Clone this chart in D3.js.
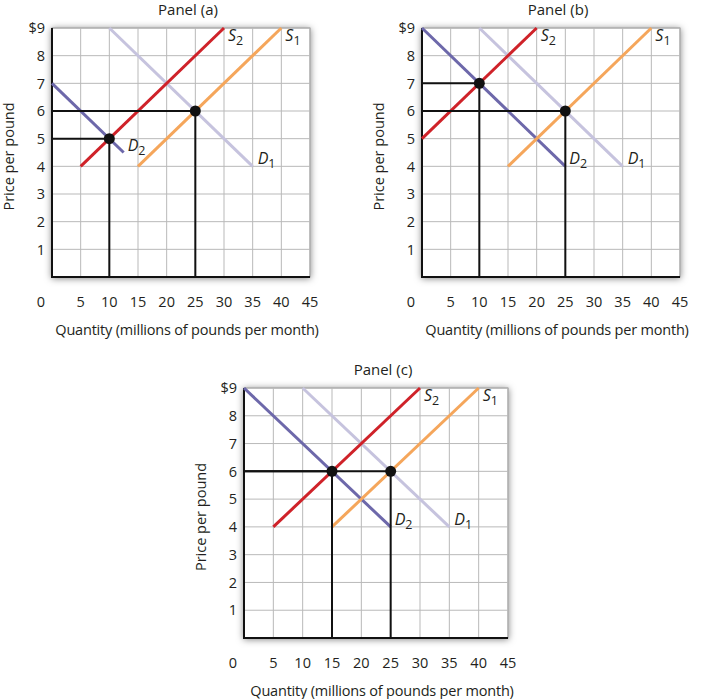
<!DOCTYPE html>
<html>
<head>
<meta charset="utf-8">
<script src="https://cdn.jsdelivr.net/npm/d3@7/dist/d3.min.js"></script>
<style>
  html, body { margin: 0; padding: 0; background: #fff; }
  svg text { font-family: "Open Sans", "Noto Sans", sans-serif; fill: #231f20; }
</style>
</head>
<body>
<svg id="chart" width="720" height="699"></svg>
<script>
// ---- data ----
const panelTitles = ["Panel (a)", "Panel (b)", "Panel (c)"];
const xTicks = [5, 10, 15, 20, 25, 30, 35, 40, 45];
const yTicks = [1, 2, 3, 4, 5, 6, 7, 8, 9];
const yTickLabels = ["1", "2", "3", "4", "5", "6", "7", "8", "$9"];

// each curve: [start point, end point] as [quantity, price], one per panel
const supply1 = [[[15, 4], [40, 9]], [[15, 4], [40, 9]], [[15, 4], [40, 9]]];
const supply2 = [[[5, 4], [30, 9]], [[0, 5], [20, 9]], [[5, 4], [30, 9]]];
const demand1 = [[[10, 9], [35, 4]], [[10, 9], [35, 4]], [[10, 9], [35, 4]]];
const demand2 = [[[0, 7], [12.5, 4.5]], [[0, 9], [25, 4]], [[0, 9], [25, 4]]];
const equilibria = [[[10, 5], [25, 6]], [[10, 7], [25, 6]], [[15, 6], [25, 6]]];

// ---- layout ----
const frames = [
  { left: 52, right: 310, top: 28, bottom: 277 },
  { left: 422, right: 680, top: 28, bottom: 277 },
  { left: 244, right: 508, top: 388, bottom: 638 }
];

const colors = { s1: "#f5a65b", s2: "#cf2229", d1: "#c6c3de", d2: "#6d68aa" };

const svg = d3.select("#chart");

// soft grey shadow around each plot box
const defs = svg.append("defs");
const shadow = defs.append("filter").attr("id", "shadow")
  .attr("x", "-10%").attr("y", "-10%").attr("width", "120%").attr("height", "120%");
shadow.append("feDropShadow")
  .attr("dx", 0).attr("dy", 1).attr("stdDeviation", 3.5)
  .attr("flood-color", "#000").attr("flood-opacity", 0.5);

function curveLabel(g, x, y, letter, sub) {
  const t = g.append("text").attr("x", x).attr("y", y).style("font-size", "16px");
  t.append("tspan").attr("font-style", "italic").text(letter);
  t.append("tspan").attr("dy", 4).style("font-size", "12.5px").text(sub);
}

panelTitles.forEach((title, i) => {
  const f = frames[i];
  const x = d3.scaleLinear().domain([0, 45]).range([f.left, f.right]);
  const y = d3.scaleLinear().domain([0, 9]).range([f.bottom, f.top]);
  const g = svg.append("g");
  const mid = (f.left + f.right) / 2;

  // plot box with shadow
  g.append("rect")
    .attr("x", f.left).attr("y", f.top)
    .attr("width", f.right - f.left).attr("height", f.bottom - f.top)
    .attr("fill", "#fff").attr("stroke", "#8a8a8a").attr("stroke-width", 1)
    .attr("filter", "url(#shadow)");

  // grid
  g.append("g").selectAll("line").data(xTicks).join("line")
    .attr("x1", d => x(d)).attr("x2", d => x(d))
    .attr("y1", f.top).attr("y2", f.bottom)
    .attr("stroke", "#b9b9b9").attr("stroke-width", 1);
  g.append("g").selectAll("line").data(yTicks).join("line")
    .attr("x1", f.left).attr("x2", f.right)
    .attr("y1", d => y(d)).attr("y2", d => y(d))
    .attr("stroke", "#b9b9b9").attr("stroke-width", 1);

  // axes (left and bottom in black)
  g.append("line").attr("x1", f.left).attr("x2", f.left)
    .attr("y1", f.top).attr("y2", f.bottom + 1)
    .attr("stroke", "#111").attr("stroke-width", 2);
  g.append("line").attr("x1", f.left - 1).attr("x2", f.right)
    .attr("y1", f.bottom).attr("y2", f.bottom)
    .attr("stroke", "#111").attr("stroke-width", 2);

  // tick labels
  g.append("g").selectAll("text").data(yTicks).join("text")
    .attr("x", f.left - 7).attr("y", d => y(d)).attr("dy", "0.36em")
    .attr("text-anchor", "end").style("font-size", "14.5px")
    .text((d, k) => yTickLabels[k]);
  g.append("g").selectAll("text").data(xTicks).join("text")
    .attr("x", d => x(d)).attr("y", f.bottom + 25).attr("dy", "0.36em")
    .attr("text-anchor", "middle").style("font-size", "14.5px")
    .text(d => d);
  g.append("text").attr("x", f.left - 11).attr("y", f.bottom + 25).attr("dy", "0.36em")
    .attr("text-anchor", "middle").style("font-size", "14.5px").text("0");

  // titles
  g.append("text").attr("x", mid + 7).attr("y", f.top - 18).attr("dy", "0.36em")
    .attr("text-anchor", "middle").style("font-size", "15px").text(title);
  g.append("text").attr("x", mid + 6).attr("y", f.bottom + 53).attr("dy", "0.36em")
    .attr("text-anchor", "middle").style("font-size", "14.5px")
    .style("letter-spacing", "-0.2px")
    .text("Quantity (millions of pounds per month)");
  g.append("text")
    .attr("transform", `translate(${f.left - 43},${(f.top + f.bottom) / 2 + 4}) rotate(-90)`)
    .attr("dy", "0.36em").attr("text-anchor", "middle").style("font-size", "14.5px")
    .text("Price per pound");

  // curves
  const line = d3.line().x(d => x(d[0])).y(d => y(d[1]));
  [[demand1[i], colors.d1], [demand2[i], colors.d2], [supply1[i], colors.s1], [supply2[i], colors.s2]]
    .forEach(([pts, c]) => {
      g.append("path").attr("d", line(pts)).attr("fill", "none")
        .attr("stroke", c).attr("stroke-width", 3);
    });

  // drop lines to the axes
  equilibria[i].forEach(p => {
    g.append("path")
      .attr("d", line([[0, p[1]], p, [p[0], 0]]))
      .attr("fill", "none").attr("stroke", "#111").attr("stroke-width", 2);
  });
  g.append("g").selectAll("circle").data(equilibria[i]).join("circle")
    .attr("cx", d => x(d[0])).attr("cy", d => y(d[1])).attr("r", 5.5)
    .attr("fill", "#111");

  // curve labels, next to the end of each curve
  const s1End = supply1[i][1], s2End = supply2[i][1];
  const d1End = demand1[i][1], d2End = demand2[i][1];
  curveLabel(g, x(s2End[0]) + 4, y(s2End[1]) + 13, "S", "2");
  curveLabel(g, x(s1End[0]) + 4, y(s1End[1]) + 13, "S", "1");
  curveLabel(g, x(d2End[0]) + 4, y(d2End[1]) - 2, "D", "2");
  curveLabel(g, x(d1End[0]) + 5, y(d1End[1]) - 2, "D", "1");
});
</script>
</body>
</html>
